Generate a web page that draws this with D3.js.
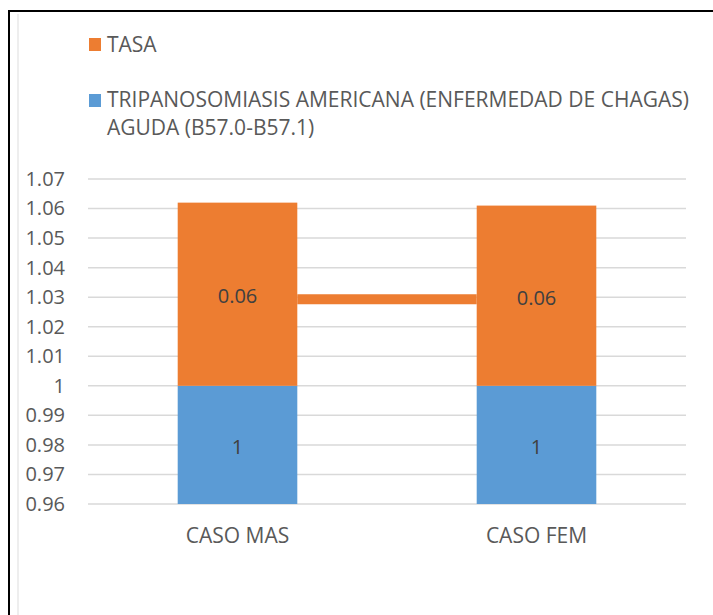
<!DOCTYPE html>
<html>
<head>
<meta charset="utf-8">
<script src="https://cdn.jsdelivr.net/npm/d3@7"></script>
<style>
  body { margin: 0; background: #fff; }
  svg { display: block; font-family: "Open Sans", sans-serif; }
</style>
</head>
<body>
<svg id="chart" width="713" height="615"></svg>
<script>
// Chart data
const categories = ["CASO MAS", "CASO FEM"];
const chagasValues = [1, 1];
const tasaValues = [0.062, 0.061];
const seriesNames = ["TRIPANOSOMIASIS AMERICANA (ENFERMEDAD DE CHAGAS) AGUDA (B57.0-B57.1)", "TASA"];
const yTicks = [0.96, 0.97, 0.98, 0.99, 1, 1.01, 1.02, 1.03, 1.04, 1.05, 1.06, 1.07];
const connectorLevel = 1.0293;

const width = 713;
const height = 615;
const margin = { top: 179, right: 27, bottom: 111, left: 88 };

const blue = "#5b9bd5";
const orange = "#ed7d31";

const svg = d3.select("#chart");

// Outer frame (black on left and top) plus faint chart-area edge
svg.append("line")
    .attr("x1", 9).attr("y1", 11).attr("x2", 9).attr("y2", height)
    .attr("stroke", "#000").attr("stroke-width", 2);
svg.append("line")
    .attr("x1", 8).attr("y1", 11).attr("x2", width).attr("y2", 11)
    .attr("stroke", "#000").attr("stroke-width", 2);
svg.append("line")
    .attr("x1", 18).attr("y1", 14).attr("x2", 18).attr("y2", height)
    .attr("stroke", "#eeeeee").attr("stroke-width", 2);

// Scales
const xScale = d3.scaleBand()
    .domain(categories)
    .range([margin.left, width - margin.right])
    .paddingInner(0.6)
    .paddingOuter(0.3);

const yScale = d3.scaleLinear()
    .domain([0.96, 1.07])
    .range([height - margin.bottom, margin.top]);

// Gridlines
svg.append("g")
    .selectAll("line")
    .data(yTicks)
    .join("line")
    .attr("x1", margin.left)
    .attr("x2", width - margin.right)
    .attr("y1", d => yScale(d))
    .attr("y2", d => yScale(d))
    .attr("stroke", "#d9d9d9")
    .attr("stroke-width", 1.5);

// Y axis labels
const yAxis = d3.axisLeft(yScale)
    .tickValues(yTicks)
    .tickFormat(d => d3.format("")(+d.toFixed(2)))
    .tickSize(0)
    .tickPadding(0);

svg.append("g")
    .attr("transform", "translate(65,0)")
    .call(yAxis)
    .call(g => g.select(".domain").remove())
    .selectAll("text")
    .attr("fill", "#595959")
    .style("font-size", "20px")
    .style("font-family", "'Open Sans', sans-serif");

// Stacked bars
const rows = categories.map((c, i) => ({ cat: c, chagas: chagasValues[i], tasa: tasaValues[i] }));
const stack = d3.stack().keys(["chagas", "tasa"]);
const stacked = stack(rows);
const colors = { chagas: blue, tasa: orange };

// Connector line between orange segments
svg.append("line")
    .attr("x1", xScale(categories[0]) + xScale.bandwidth())
    .attr("x2", xScale(categories[1]))
    .attr("y1", yScale(connectorLevel))
    .attr("y2", yScale(connectorLevel))
    .attr("stroke", orange)
    .attr("stroke-width", 10);

const bottomVal = yScale.domain()[0];
stacked.forEach(layer => {
    svg.append("g")
        .selectAll("rect")
        .data(layer)
        .join("rect")
        .attr("x", d => xScale(d.data.cat))
        .attr("width", xScale.bandwidth())
        .attr("y", d => yScale(d[1]))
        .attr("height", d => yScale(Math.max(d[0], bottomVal)) - yScale(d[1]))
        .attr("fill", colors[layer.key]);

    // Data labels centred in each segment
    svg.append("g")
        .selectAll("text")
        .data(layer)
        .join("text")
        .attr("x", d => xScale(d.data.cat) + xScale.bandwidth() / 2)
        .attr("y", d => (yScale(d[1]) + yScale(Math.max(d[0], bottomVal))) / 2 + 2)
        .attr("dy", "0.35em")
        .attr("text-anchor", "middle")
        .attr("fill", "#404040")
        .style("font-size", "20px")
        .text(d => layer.key === "tasa" ? d3.format(".2f")(d[1] - d[0]) : d3.format("")(d[1] - d[0]));
});

// X axis labels
svg.append("g")
    .selectAll("text")
    .data(categories)
    .join("text")
    .attr("x", d => xScale(d) + xScale.bandwidth() / 2)
    .attr("y", 543)
    .attr("text-anchor", "middle")
    .attr("fill", "#595959")
    .style("font-size", "21px")
    .text(d => d);

// Legend
const legend = svg.append("g").attr("font-size", "21px").attr("fill", "#595959");
legend.append("rect").attr("x", 89).attr("y", 38).attr("width", 12).attr("height", 13).attr("fill", orange);
legend.append("text").attr("x", 107).attr("y", 52).attr("fill", "#595959").text(seriesNames[1]);

legend.append("rect").attr("x", 89).attr("y", 94).attr("width", 12).attr("height", 13).attr("fill", blue);
const t2 = legend.append("text").attr("x", 107).attr("y", 107).attr("fill", "#595959");
t2.append("tspan").attr("x", 107).text("TRIPANOSOMIASIS AMERICANA (ENFERMEDAD DE CHAGAS)");
t2.append("tspan").attr("x", 107).attr("dy", 28).text("AGUDA (B57.0-B57.1)");
</script>
</body>
</html>
